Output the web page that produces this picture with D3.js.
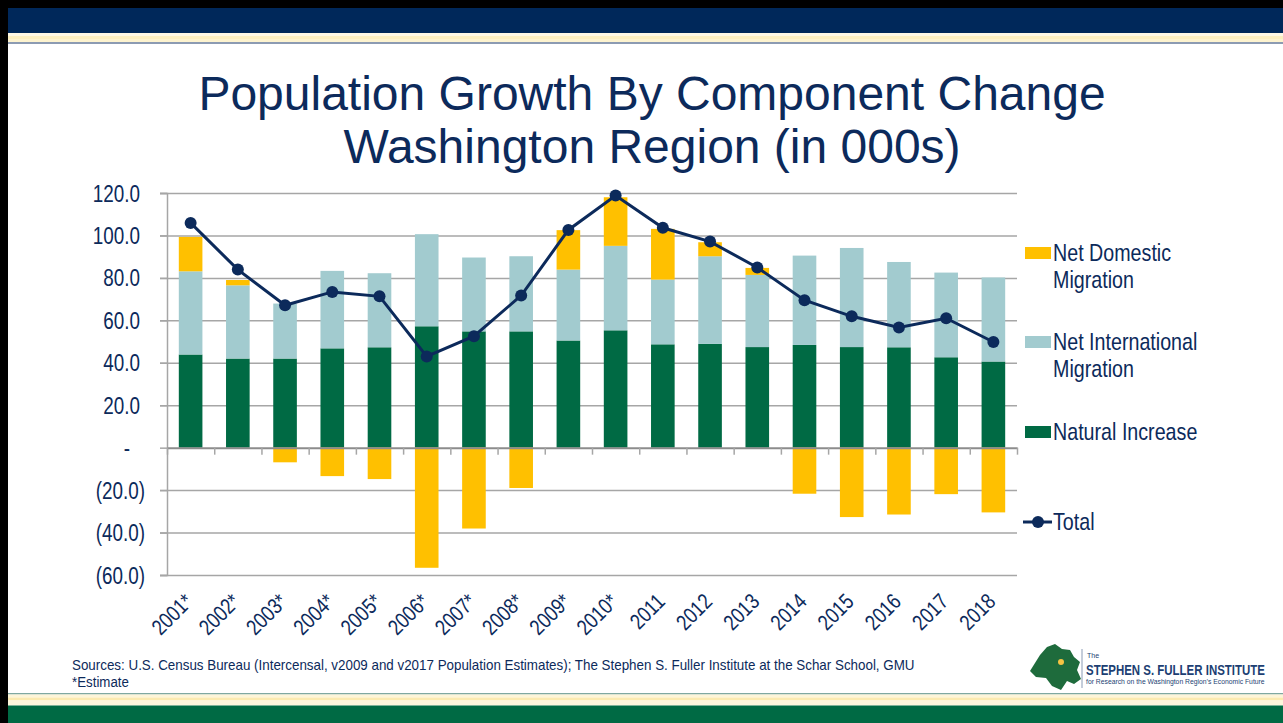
<!DOCTYPE html>
<html><head><meta charset="UTF-8">
<script src="https://cdn.jsdelivr.net/npm/d3@7"></script>
<style>
body { margin: 0; background: #fff; }
.chart-text { font-family: "Liberation Sans", Arial, sans-serif; fill: #0c2a5b; }
.grid line { stroke: #a6a6a6; stroke-width: 1.5; }
.grid path { display: none; }
</style>
</head><body>
<div id="chart"></div>
<script>
// categories and series (thousands)
var years = ["2001*","2002*","2003*","2004*","2005*","2006*","2007*","2008*","2009*","2010*",
             "2011","2012","2013","2014","2015","2016","2017","2018"];
var natural = [43.9, 42.0, 42.0, 46.8, 47.3, 57.2, 54.8, 54.8, 50.5, 55.3, 48.7, 48.9, 47.4, 48.4, 47.4, 47.3, 42.6, 40.6];
var international = [39.2, 34.5, 25.9, 36.5, 34.9, 43.4, 34.8, 35.4, 33.4, 39.8, 30.5, 41.3, 34.0, 42.1, 46.7, 40.2, 39.9, 39.6];
var domestic = [16.2, 2.5, -6.9, -13.4, -14.8, -56.6, -38.1, -19.0, 18.6, 22.9, 23.9, 6.6, 3.3, -21.7, -32.7, -31.5, -21.9, -30.5];
var total = [105.9, 83.9, 67.1, 73.4, 71.3, 43.0, 52.5, 71.7, 102.6, 118.8, 103.6, 97.1, 84.9, 69.5, 61.9, 56.6, 61.0, 49.8];
var yTicks = [120, 100, 80, 60, 40, 20, 0, -20, -40, -60];

var navy = "#0c2a5b";
var colors = { natural: "#006a44", intl: "#a2cbcf", dom: "#ffc000" };
var NARROW = "scale(0.82,1)"; // no Arial Narrow installed, squeeze Liberation Sans instead

var W = 1283, H = 723;
var svg = d3.select("#chart").append("svg").attr("width", W).attr("height", H);

// slide frame: black edge, navy header, stripes, green footer
svg.append("rect").attr("x", 0).attr("y", 0).attr("width", W).attr("height", 8).attr("fill", "#000");
svg.append("rect").attr("x", 0).attr("y", 0).attr("width", 8).attr("height", H).attr("fill", "#000");
svg.append("rect").attr("x", 8).attr("y", 8).attr("width", W - 8).attr("height", 25).attr("fill", "#00285a");
var topStripes = [[33, 3, "#fdf8e6"], [36, 3, "#fbefc0"], [39, 3, "#fdf3cf"], [42, 2, "#8c9bb2"]];
topStripes.forEach(function(s) {
  svg.append("rect").attr("x", 8).attr("y", s[0]).attr("width", W - 8).attr("height", s[1]).attr("fill", s[2]);
});
var botStripes = [[693, 1.5, "#7fa8a0"], [694.5, 3, "#fdf5d8"], [697.5, 3, "#fbeab0"], [700.5, 5, "#fdf6dc"]];
botStripes.forEach(function(s) {
  svg.append("rect").attr("x", 8).attr("y", s[0]).attr("width", W - 8).attr("height", s[1]).attr("fill", s[2]);
});
svg.append("rect").attr("x", 8).attr("y", 705.5).attr("width", W - 8).attr("height", H - 705.5).attr("fill", "#006a44");

// title
var title = svg.append("text").attr("text-anchor", "middle")
  .style("font-family", "'Liberation Sans', Arial, sans-serif").style("font-size", "48px").attr("fill", navy);
title.append("tspan").attr("x", 652).attr("y", 110).text("Population Growth By Component Change");
title.append("tspan").attr("x", 652).attr("y", 163).text("Washington Region (in 000s)");

// scales
var left = 167, right = 1017;
var x = d3.scaleBand().domain(years).range([left, right]).paddingInner(0.5).paddingOuter(0.25);
var y = d3.scaleLinear().domain([-60, 120]).range([575, 193]);

// gridlines
svg.append("g").attr("class", "grid")
  .attr("transform", "translate(" + right + ",0)")
  .call(d3.axisLeft(y).tickValues(yTicks.filter(function(v) { return v !== 0; })).tickSize(right - left + 7).tickFormat(""));

// y axis, accounting style labels
var fmt = function(v) { return v === 0 ? "-" : v > 0 ? v.toFixed(1) : "(" + Math.abs(v).toFixed(1) + ")"; };
var yAxis = svg.append("g").attr("transform", "translate(" + left + ",0)")
  .call(d3.axisLeft(y).tickValues(yTicks).tickSize(7).tickFormat(fmt));
yAxis.select(".domain").attr("stroke", "#a6a6a6").attr("stroke-width", 1.5);
yAxis.selectAll(".tick line").attr("stroke", "#a6a6a6").attr("stroke-width", 1.5);
yAxis.selectAll(".tick text").attr("class", "chart-text").style("font-size", "23px")
  .attr("x", 0).attr("dy", "0.35em")
  .attr("transform", function(v) { return "translate(" + (v > 0 ? -27 : v === 0 ? -37 : -22) + ",0) " + NARROW; });

// bars
var idx = d3.range(years.length);
function bars(cls, color, y0, y1) {
  svg.append("g").selectAll("rect").data(idx).join("rect")
    .attr("class", cls)
    .attr("x", function(i) { return x(years[i]); })
    .attr("width", x.bandwidth())
    .attr("y", function(i) { return Math.min(y(y0(i)), y(y1(i))); })
    .attr("height", function(i) { return Math.abs(y(y0(i)) - y(y1(i))); })
    .attr("fill", color);
}
bars("natural", colors.natural, function() { return 0; }, function(i) { return natural[i]; });
bars("intl", colors.intl, function(i) { return natural[i]; }, function(i) { return natural[i] + international[i]; });
bars("dom", colors.dom,
  function(i) { return domestic[i] > 0 ? natural[i] + international[i] : 0; },
  function(i) { return domestic[i] > 0 ? natural[i] + international[i] + domestic[i] : domestic[i]; });

// x axis at zero, ticks between categories
var xb = d3.scaleLinear().domain([0, years.length]).range([left, right]);
var xAxis = svg.append("g").attr("transform", "translate(0," + y(0) + ")")
  .call(d3.axisBottom(xb).ticks(years.length).tickSize(7).tickSizeOuter(0).tickFormat(""));
xAxis.select(".domain").attr("stroke", "#8c8c8c").attr("stroke-width", 2);
xAxis.selectAll(".tick line").attr("stroke", "#a6a6a6").attr("stroke-width", 1.5);

// x labels rotated
svg.append("g").selectAll("text").data(years).join("text")
  .attr("class", "chart-text").style("font-size", "22px").attr("text-anchor", "end")
  .attr("transform", function(d) { return "translate(" + (x(d) + x.bandwidth() / 2 + 3.5) + ",603) rotate(-45) " + NARROW; })
  .text(function(d) { return d; });

// total line
var line = d3.line().x(function(d, i) { return x(years[i]) + x.bandwidth() / 2; }).y(function(d) { return y(d); });
svg.append("path").datum(total).attr("d", line).attr("fill", "none").attr("stroke", navy).attr("stroke-width", 3);
svg.append("g").selectAll("circle").data(total).join("circle")
  .attr("cx", function(d, i) { return x(years[i]) + x.bandwidth() / 2; })
  .attr("cy", function(d) { return y(d); })
  .attr("r", 6).attr("fill", navy);

// legend
var legend = [
  { lines: ["Net Domestic", "Migration"], color: colors.dom, y: 247 },
  { lines: ["Net International", "Migration"], color: colors.intl, y: 336 },
  { lines: ["Natural Increase"], color: colors.natural, y: 426 }
];
legend.forEach(function(l) {
  svg.append("rect").attr("x", 1025).attr("y", l.y).attr("width", 26).attr("height", 12).attr("fill", l.color);
  l.lines.forEach(function(t, k) {
    svg.append("text").attr("class", "chart-text").style("font-size", "24px")
      .attr("transform", "translate(1053," + (l.y + 14 + k * 26.5) + ") " + NARROW).text(t);
  });
});
svg.append("line").attr("x1", 1023).attr("x2", 1052).attr("y1", 522).attr("y2", 522).attr("stroke", navy).attr("stroke-width", 3);
svg.append("circle").attr("cx", 1038).attr("cy", 522).attr("r", 6).attr("fill", navy);
svg.append("text").attr("class", "chart-text").style("font-size", "24px")
  .attr("transform", "translate(1053,530) " + NARROW).text("Total");

// squeeze a text horizontally so it spans `width` px from (x0, y0)
function fitText(sel, x0, y0, width) {
  var w = sel.node().getComputedTextLength();
  sel.attr("transform", "translate(" + x0 + "," + y0 + ") scale(" + (width / w) + ",1)");
  return sel;
}

// sources
fitText(svg.append("text").attr("fill", navy)
  .style("font-family", "'Liberation Sans', sans-serif").style("font-size", "15px")
  .text("Sources: U.S. Census Bureau (Intercensal, v2009 and v2017 Population Estimates); The Stephen S. Fuller Institute at the Schar School, GMU"),
  72, 670, 843);
fitText(svg.append("text").attr("fill", navy)
  .style("font-family", "'Liberation Sans', sans-serif").style("font-size", "15px")
  .text("*Estimate"), 72, 687, 57);

// logo
var logo = svg.append("g");
logo.append("path")
  .attr("d", "M1047,647 L1055,644 L1062,649 L1070,650 L1074,657 L1080,662 L1077,670 L1081,679 L1074,684 L1067,681 L1061,690 L1052,686 L1046,678 L1036,677 L1030,671 L1035,663 L1040,655 Z")
  .attr("fill", "#1e6b3c");
logo.append("circle").attr("cx", 1061).attr("cy", 662).attr("r", 3).attr("fill", "#f6c343");
logo.append("line").attr("x1", 1082).attr("x2", 1082).attr("y1", 649).attr("y2", 688).attr("stroke", "#8a9bb5").attr("stroke-width", 1);
logo.append("text").attr("x", 1087).attr("y", 658).attr("fill", "#1d3f73")
  .style("font-family", "'Liberation Sans', sans-serif").style("font-size", "7px").text("The");
fitText(logo.append("text").attr("fill", "#1d3f73")
  .style("font-family", "'Liberation Sans', sans-serif").style("font-weight", "bold").style("font-size", "15px")
  .text("STEPHEN S. FULLER INSTITUTE"), 1086, 675, 179);
fitText(logo.append("text").attr("fill", "#1d3f73")
  .style("font-family", "'Liberation Sans', sans-serif").style("font-size", "6.5px")
  .text("for Research on the Washington Region\u2019s Economic Future"), 1086, 684, 179);
</script>
</body></html>
